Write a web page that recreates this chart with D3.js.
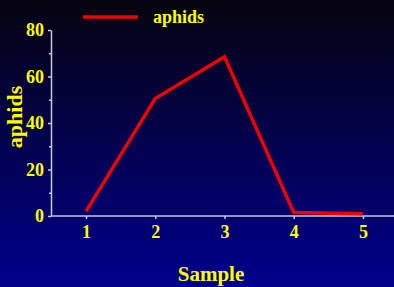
<!DOCTYPE html>
<html>
<head>
<meta charset="utf-8">
<script src="https://cdn.jsdelivr.net/npm/d3@7"></script>
<style>
  body { margin: 0; }
  svg { display: block; font-family: "Liberation Serif", "Times New Roman", serif; font-weight: bold; }
</style>
</head>
<body>
<svg id="chart"></svg>
<script>
var samples = [1, 2, 3, 4, 5];
var aphids = [2, 50.5, 68.5, 1.5, 1];
var yTicks = [0, 20, 40, 60, 80];
var yMinorTicks = [10, 30, 50, 70];

var W = 394, H = 287;
var svg = d3.select("#chart").attr("width", W).attr("height", H);

var defs = svg.append("defs");
var grad = defs.append("linearGradient").attr("id", "bg")
  .attr("x1", 0).attr("y1", 0).attr("x2", 0).attr("y2", 1);
grad.append("stop").attr("offset", "0%").attr("stop-color", "#05040f");
grad.append("stop").attr("offset", "100%").attr("stop-color", "#00008c");
svg.append("rect").attr("width", W).attr("height", H).attr("fill", "url(#bg)");

var x = d3.scaleLinear().domain([1, 5]).range([86, 363]);
var y = d3.scaleLinear().domain([0, 80]).range([216, 30]);
var x0 = 51;

var axisCol = "#c8c8d8", textCol = "#ffff00";

// y axis
var ya = svg.append("g").attr("transform", "translate(" + x0 + ",0)")
  .call(d3.axisLeft(y).tickValues(yTicks).tickFormat(d3.format("d")).tickSize(3).tickPadding(4).tickSizeOuter(0));
svg.append("g").attr("transform", "translate(" + x0 + ",0)")
  .call(d3.axisLeft(y).tickValues(yMinorTicks).tickSize(2).tickFormat("").tickSizeOuter(0))
  .select(".domain").remove();

// x axis
var xa = svg.append("g").attr("transform", "translate(0," + y(0) + ")")
  .call(d3.axisBottom(x).tickValues(samples).tickFormat(d3.format("d")).tickSize(3).tickPadding(6).tickSizeOuter(0));
xa.select(".domain").attr("d", "M" + x0 + ",0H" + W);

svg.selectAll(".domain, .tick line").attr("stroke", axisCol).attr("stroke-width", 1.5);
svg.selectAll(".tick text").attr("fill", textCol).attr("font-size", 18)
  .attr("font-family", "Liberation Serif").attr("font-weight", "bold");

// line
var line = d3.line().x(function(d, i) { return x(samples[i]); }).y(function(d) { return y(d); });
svg.append("path").datum(aphids).attr("d", line)
  .attr("fill", "none").attr("stroke", "#ee0000").attr("stroke-width", 3.5)
  .attr("stroke-linejoin", "miter");

// legend
svg.append("line").attr("x1", 83).attr("x2", 138).attr("y1", 17).attr("y2", 17)
  .attr("stroke", "#ee0000").attr("stroke-width", 3.5);
svg.append("text").attr("x", 153).attr("y", 23).attr("fill", textCol)
  .attr("font-size", 18).text("aphids");

// axis titles
svg.append("text").attr("transform", "translate(22,117) rotate(-90)")
  .attr("text-anchor", "middle").attr("fill", textCol).attr("font-size", 22).text("aphids");
svg.append("text").attr("x", 211).attr("y", 281).attr("text-anchor", "middle")
  .attr("fill", textCol).attr("font-size", 21).text("Sample");
</script>
</body>
</html>
